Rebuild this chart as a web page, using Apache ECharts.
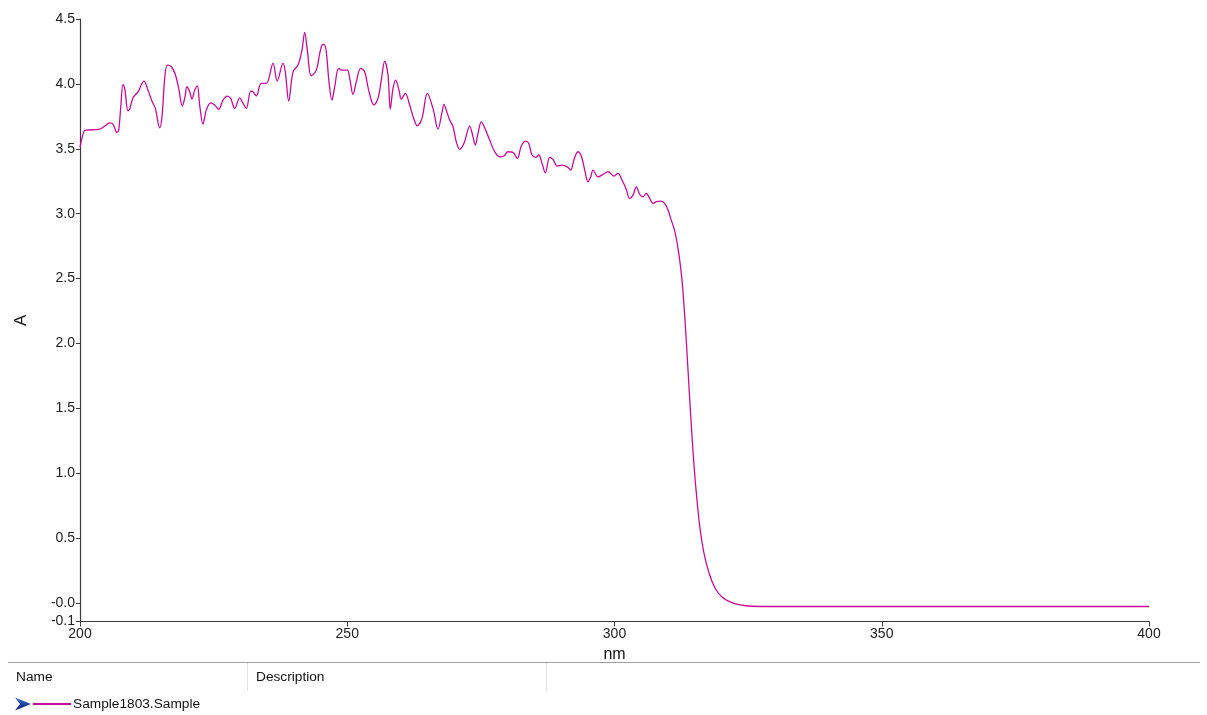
<!DOCTYPE html>
<html>
<head>
<meta charset="utf-8">
<title>Sample1803 UV spectrum</title>
<script src="https://cdn.jsdelivr.net/npm/echarts@6/dist/echarts.min.js"></script>
<style>
  html, body { margin: 0; padding: 0; background: #ffffff; }
  #chart { width: 1207px; height: 715px; }
</style>
</head>
<body>
<div id="chart"></div>
<script>
// Absorbance spectrum of Sample1803 (wavelength in nm, absorbance A)
const seriesName = 'Sample1803.Sample';

const wavelength = [
  200.0, 200.75, 201.18, 203.69, 204.62, 205.56, 206.17, 206.92, 207.24, 207.61,
  208.04, 208.36, 208.98, 209.30, 209.92, 210.85, 211.97, 212.72, 213.47, 214.09,
  214.91, 215.34, 215.85, 216.33, 217.08, 217.83, 218.47, 219.14, 219.59, 220.02,
  220.52, 220.95, 221.46, 221.95, 222.39, 223.01, 223.63, 224.45, 225.20, 225.95,
  226.75, 227.56, 228.19, 228.94, 229.88, 230.37, 231.11, 231.94, 232.37, 232.98,
  233.92, 234.86, 236.11, 236.91, 237.98, 238.41, 239.05, 239.85, 240.79, 241.53,
  242.04, 242.53, 243.27, 244.21, 244.85, 245.28, 245.65, 246.08, 246.58, 247.15,
  247.65, 248.40, 249.02, 250.01, 250.46, 251.08, 251.69, 252.52, 253.26, 254.01,
  255.00, 255.75, 256.37, 257.01, 257.62, 258.05, 258.56, 259.06, 259.68, 260.11,
  260.86, 261.68, 262.43, 263.11, 263.98, 264.98, 266.04, 266.98, 267.73, 268.10,
  268.72, 269.17, 269.79, 270.40, 271.04, 271.84, 272.91, 273.53, 273.96, 274.46,
  275.08, 275.83, 276.65, 277.59, 278.52, 279.33, 280.07, 281.01, 281.82, 282.56,
  283.39, 283.95, 284.57, 285.26, 285.82, 286.44, 287.05, 287.88, 288.49, 289.30,
  290.18, 291.17, 291.81, 292.42, 293.17, 293.79, 294.43, 295.04, 295.55, 295.98,
  296.91, 297.85, 298.78, 299.91, 300.65, 301.40, 302.21, 302.84, 303.46, 304.08,
  304.72, 305.33, 305.95, 306.59, 307.20, 307.82, 308.76, 309.39, 310.01, 310.51,
  311.32, 312.07, 312.63, 313.19, 313.75, 314.31, 314.87, 315.43, 315.99, 316.74,
  317.68, 318.80, 320.11, 321.61, 323.48, 325.73, 330.0, 340.0, 360.0, 380.0,
  400.0
];

const absorbance = [
  3.510, 3.636, 3.644, 3.652, 3.675, 3.700, 3.690, 3.626, 3.644, 3.814,
  3.996, 3.965, 3.793, 3.806, 3.893, 3.939, 4.022, 3.952, 3.867, 3.811,
  3.662, 3.747, 4.042, 4.145, 4.132, 4.073, 3.965, 3.831, 3.888, 3.978,
  3.939, 3.883, 3.952, 3.985, 3.837, 3.690, 3.798, 3.854, 3.837, 3.804,
  3.875, 3.906, 3.888, 3.811, 3.893, 3.862, 3.811, 3.945, 3.939, 3.908,
  4.004, 4.004, 4.158, 4.022, 4.158, 4.093, 3.868, 4.093, 4.145, 4.260,
  4.397, 4.260, 4.062, 4.106, 4.235, 4.299, 4.304, 4.247, 4.016, 3.875,
  3.978, 4.119, 4.106, 4.106, 4.042, 3.919, 4.016, 4.119, 4.093, 3.952,
  3.837, 3.888, 4.029, 4.176, 4.068, 3.806, 3.965, 4.029, 3.952, 3.883,
  3.927, 3.837, 3.734, 3.677, 3.734, 3.927, 3.811, 3.652, 3.780, 3.842,
  3.773, 3.721, 3.670, 3.554, 3.495, 3.542, 3.675, 3.592, 3.529, 3.619,
  3.708, 3.650, 3.567, 3.477, 3.438, 3.444, 3.477, 3.472, 3.426, 3.521,
  3.559, 3.542, 3.452, 3.434, 3.452, 3.388, 3.315, 3.434, 3.418, 3.367,
  3.374, 3.361, 3.336, 3.418, 3.477, 3.444, 3.336, 3.246, 3.284, 3.336,
  3.284, 3.303, 3.323, 3.290, 3.311, 3.259, 3.187, 3.118, 3.143, 3.207,
  3.149, 3.130, 3.156, 3.118, 3.079, 3.092, 3.097, 3.079, 3.028, 2.964,
  2.858, 2.681, 2.488, 2.180, 1.795, 1.410, 1.063, 0.794, 0.578, 0.385,
  0.231, 0.116, 0.046, 0.008, -0.015, -0.025, -0.027, -0.027, -0.027, -0.027,
  -0.027
];

// Axis ticks
const xTicks = [200, 250, 300, 350, 400];
const yTicks = [-0.1425, 0, 0.5, 1.0, 1.5, 2.0, 2.5, 3.0, 3.5, 4.0, 4.5];
const yTickLabels = ['-0.1', '-0.0', '0.5', '1.0', '1.5', '2.0', '2.5', '3.0', '3.5', '4.0', '4.5'];

// Table header of the sample list under the plot
const tableHeaders = ['Name', 'Description'];

const lineColor = '#cc0a99';
const axisColor = '#3c3c3c';
const textFont = '"Liberation Sans", Arial, sans-serif';

const points = wavelength.map((w, i) => [w, absorbance[i]]);

const chart = echarts.init(document.getElementById('chart'), null, { renderer: 'canvas' });

chart.setOption({
  backgroundColor: '#ffffff',
  animation: false,
  grid: { left: 80, right: 58, top: 19, bottom: 93.5, containLabel: false },
  xAxis: {
    type: 'value',
    min: xTicks[0],
    max: xTicks[xTicks.length - 1],
    interval: 50,
    name: 'nm',
    nameLocation: 'middle',
    nameGap: 21,
    nameTextStyle: { fontFamily: textFont, fontSize: 16, color: '#111' },
    axisLine: { show: true, onZero: false, lineStyle: { color: axisColor, width: 1.2 } },
    axisTick: { show: true, length: 5, inside: false, lineStyle: { color: axisColor } },
    axisLabel: {
      color: '#222', fontFamily: textFont, fontSize: 14, margin: 6,
      showMinLabel: true, showMaxLabel: true
    },
    splitLine: { show: false }
  },
  yAxis: {
    type: 'value',
    min: yTicks[0],
    max: yTicks[yTicks.length - 1],
    name: 'A',
    nameLocation: 'middle',
    nameGap: 50,
    nameRotate: 90,
    nameTextStyle: { fontFamily: textFont, fontSize: 17, color: '#111' },
    axisLine: { show: true, onZero: false, lineStyle: { color: axisColor, width: 1.2 } },
    axisTick: { show: true, length: 4, inside: false, customValues: yTicks, lineStyle: { color: axisColor } },
    axisLabel: {
      color: '#222', fontFamily: textFont, fontSize: 14, margin: 5,
      customValues: yTicks,
      hideOverlap: false,
      formatter: (v) => {
        const idx = yTicks.findIndex(t => Math.abs(t - v) < 1e-6);
        return idx >= 0 ? yTickLabels[idx] : '';
      }
    },
    splitLine: { show: false }
  },
  series: [{
    name: seriesName,
    type: 'line',
    data: points,
    smooth: 0.35,
    showSymbol: false,
    symbol: 'none',
    lineStyle: { color: lineColor, width: 1.3 },
    clip: true
  }],
  graphic: [
    // divider between plot and sample table
    { type: 'line', shape: { x1: 8, y1: 662.5, x2: 1200, y2: 662.5 }, style: { stroke: '#a0a0a0', lineWidth: 1 } },
    { type: 'line', shape: { x1: 247.5, y1: 663, x2: 247.5, y2: 691 }, style: { stroke: '#e3e3e3', lineWidth: 1 } },
    { type: 'line', shape: { x1: 546.5, y1: 663, x2: 546.5, y2: 691 }, style: { stroke: '#e3e3e3', lineWidth: 1 } },
    { type: 'text', left: 16, top: 670, style: { text: tableHeaders[0], font: '13.7px ' + textFont, fill: '#111' } },
    { type: 'text', left: 256, top: 670, style: { text: tableHeaders[1], font: '13.7px ' + textFont, fill: '#111' } },
    // selected-row arrow
    {
      type: 'polygon',
      shape: { points: [[15, 697.5], [31, 704], [15, 710.5], [20, 704]] },
      style: {
        fill: new echarts.graphic.LinearGradient(0, 0, 0, 1, [
          { offset: 0, color: '#3a6fe0' },
          { offset: 1, color: '#0a1a6a' }
        ])
      }
    },
    // legend swatch and sample name
    { type: 'line', shape: { x1: 33, y1: 704, x2: 71, y2: 704 }, style: { stroke: lineColor, lineWidth: 2 } },
    { type: 'text', left: 73, top: 697, style: { text: seriesName, font: '13.7px ' + textFont, fill: '#111' } }
  ]
});
</script>
</body>
</html>
